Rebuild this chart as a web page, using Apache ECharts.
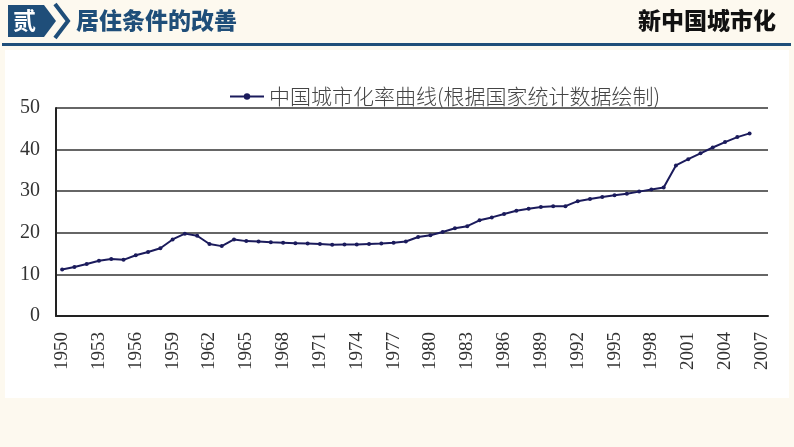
<!DOCTYPE html>
<html>
<head>
<meta charset="utf-8">
<script src="https://cdn.jsdelivr.net/npm/echarts@6/dist/echarts.min.js"></script>
<style>
  html, body { margin: 0; padding: 0; background: #fdf9ef; }
  #chart { width: 794px; height: 447px; }
</style>
</head>
<body>
<div id="chart"></div>
<script>
// years 1950-2007, rate (2007 has no point)
const years = [];
for (let y = 1950; y <= 2007; y++) years.push(String(y));
const rates = [
  11.2, 11.8, 12.5, 13.3, 13.7, 13.5, 14.6, 15.4, 16.3, 18.4,
  19.8, 19.3, 17.3, 16.8, 18.4, 18.0, 17.9, 17.7, 17.6, 17.5,
  17.4, 17.3, 17.1, 17.2, 17.2, 17.3, 17.4, 17.6, 17.9, 19.0,
  19.4, 20.2, 21.1, 21.6, 23.0, 23.7, 24.5, 25.3, 25.8, 26.2,
  26.4, 26.4, 27.6, 28.1, 28.6, 29.0, 29.4, 29.9, 30.4, 30.9,
  36.2, 37.7, 39.1, 40.5, 41.8, 43.0, 43.9
];
const seriesName = "中国城市化率曲线(根据国家统计数据绘制)";

const chart = echarts.init(document.getElementById("chart"));
chart.setOption({
  backgroundColor: "#fdf9ef",
  animation: false,
  graphic: [
    { type: "rect", shape: { x: 5, y: 50, width: 784, height: 348 }, style: { fill: "#ffffff" }, z: -10 },
    { type: "rect", shape: { x: 2, y: 43, width: 789, height: 3 }, style: { fill: "#1f4e79" } },
    { type: "polygon", shape: { points: [[8, 5], [44, 5], [56, 21], [44, 37], [8, 37]] }, style: { fill: "#1f4e79" } },
    { type: "polyline", shape: { points: [[55, 4], [68, 21], [55, 38]] }, style: { stroke: "#1f4e79", lineWidth: 4, fill: null } },
    { type: "text", left: 13, top: 9, style: { text: "贰", fill: "#ffffff", font: "bold 23px 'Noto Sans CJK SC'" } },
    { type: "text", left: 76, top: 9, style: { text: "居住条件的改善", fill: "#1f4e79", font: "900 23px 'Noto Sans CJK SC'" } },
    { type: "text", right: 18, top: 9, style: { text: "新中国城市化", fill: "#111111", font: "900 23px 'Noto Sans CJK SC'" } }
  ],
  legend: {
    top: 81,
    left: 224,
    itemWidth: 34,
    itemHeight: 8,
    itemGap: 6,
    textStyle: { fontSize: 21, color: "#444", fontWeight: 300, fontFamily: "Noto Sans CJK SC" },
    data: [seriesName]
  },
  grid: { left: 56, right: 26, top: 108, bottom: 131, containLabel: false },
  xAxis: {
    type: "category",
    data: years,
    boundaryGap: true,
    axisLine: { lineStyle: { color: "#222", width: 2 } },
    axisTick: { inside: true, length: 5, lineStyle: { color: "#222", width: 1.5 } },
    axisLabel: {
      interval: 2,
      rotate: 90,
      margin: 16,
      fontSize: 19,
      color: "#333",
      fontFamily: "Liberation Serif"
    }
  },
  yAxis: {
    type: "value",
    min: 0,
    max: 50,
    interval: 10,
    axisLine: { show: true, lineStyle: { color: "#222", width: 2 } },
    axisTick: { show: false },
    axisLabel: { margin: 16, fontSize: 20, color: "#333", fontFamily: "Liberation Serif" },
    splitLine: { lineStyle: { color: "#666", width: 2 } }
  },
  series: [
    {
      name: seriesName,
      type: "line",
      data: rates,
      symbol: "circle",
      symbolSize: 4,
      itemStyle: { color: "#1b1b5c" },
      lineStyle: { color: "#1b1b5c", width: 2 }
    }
  ]
});
</script>
</body>
</html>
